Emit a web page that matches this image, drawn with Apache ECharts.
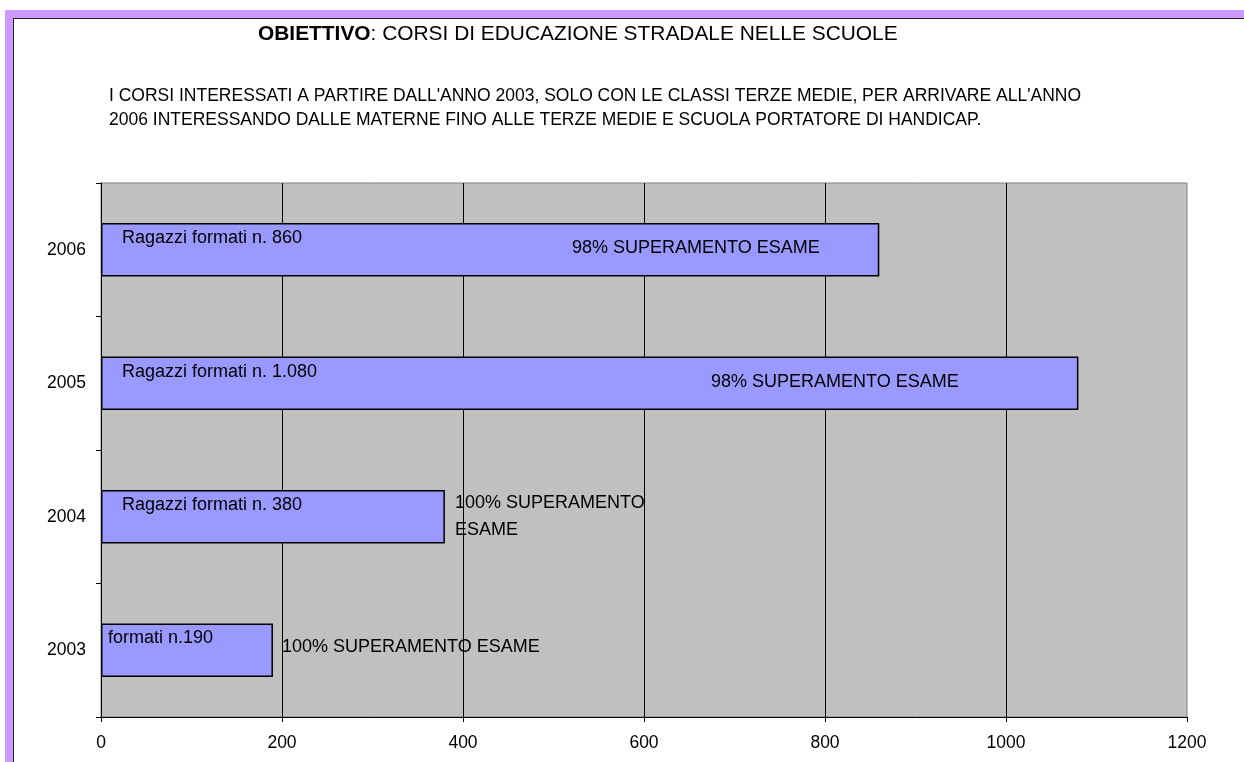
<!DOCTYPE html>
<html>
<head>
<meta charset="utf-8">
<script src="https://cdn.jsdelivr.net/npm/echarts@6/dist/echarts.min.js"></script>
<style>
  html, body { margin: 0; padding: 0; background: #fff; }
  #frame { position: absolute; left: 5px; top: 10px; right: 0; bottom: 0; background: #cc99ff; }
  #sheet { position: absolute; left: 13px; top: 18px; right: 0; bottom: 0; background: #fff;
           border-left: 1px solid #222; border-top: 1px solid #222; }
  #chart { position: absolute; left: 0; top: 0; width: 1244px; height: 762px; }
</style>
</head>
<body>
<div id="frame"></div>
<div id="sheet"></div>
<div id="chart"></div>
<script>
/* corsi di educazione stradale */
var years = ['2003', '2004', '2005', '2006'];
var trained = [190, 380, 1080, 860];
var trainedText = ['formati n.190', 'Ragazzi formati n. 380', 'Ragazzi formati n. 1.080', 'Ragazzi formati n. 860'];
var examText = ['100% SUPERAMENTO ESAME', '100% SUPERAMENTO\nESAME', '98% SUPERAMENTO ESAME', '98% SUPERAMENTO ESAME'];
var xTicks = [0, 200, 400, 600, 800, 1000, 1200];

var font = "'Liberation Sans', Arial, sans-serif";

// where the two notes sit inside each row (px from the bar start)
var trainedShift = [[7, -12], [21, -12], [21, -11], [21, -12]];
var examShift = [[181, -3], [354, 0], [610, -1], [471, -2]];

var chart = echarts.init(document.getElementById('chart'));

var trainedData = [], examData = [];
for (var i = 0; i < years.length; i++) {
  trainedData.push({
    value: trained[i],
    label: { formatter: trainedText[i], offset: trainedShift[i] }
  });
  examData.push({
    value: trained[i],
    label: { formatter: examText[i], offset: examShift[i] }
  });
}

chart.setOption({
  animation: false,
  textStyle: { fontFamily: font, color: '#000' },
  title: [{
    left: 258,
    top: 24,
    padding: 0,
    text: '{b|OBIETTIVO}: CORSI DI EDUCAZIONE STRADALE NELLE SCUOLE',
    textStyle: {
      fontFamily: font,
      fontSize: 20.9,
      fontWeight: 'normal',
      color: '#000',
      rich: {
        b: { fontFamily: font, fontSize: 20.9, fontWeight: 'bold', color: '#000' }
      }
    }
  }, {
    left: 109,
    top: 84,
    padding: 0,
    text: "I CORSI INTERESSATI A PARTIRE DALL'ANNO 2003, SOLO CON LE CLASSI TERZE MEDIE, PER ARRIVARE ALL'ANNO\n" +
          '2006 INTERESSANDO DALLE MATERNE FINO ALLE TERZE MEDIE E SCUOLA PORTATORE DI HANDICAP.',
    textStyle: {
      fontFamily: font,
      fontSize: 17.5,
      fontWeight: 'normal',
      lineHeight: 24,
      color: '#000'
    }
  }],
  grid: {
    left: 101,
    right: 57,
    top: 183,
    bottom: 45,
    show: true,
    backgroundColor: '#c0c0c0',
    borderColor: '#808080',
    borderWidth: 1
  },
  xAxis: {
    type: 'value',
    min: xTicks[0],
    max: xTicks[xTicks.length - 1],
    interval: xTicks[1] - xTicks[0],
    axisLine: { show: true, lineStyle: { color: '#000', width: 1 } },
    axisTick: { show: true, length: 5, lineStyle: { color: '#000' } },
    axisLabel: {
      color: '#000',
      fontSize: 17.5,
      margin: 17,
      fontFamily: font,
      formatter: function(v) { return String(v); }
    },
    splitLine: {
      show: true,
      showMinLine: false,
      showMaxLine: false,
      lineStyle: { color: '#000', width: 1 }
    }
  },
  yAxis: {
    type: 'category',
    data: years,
    axisLine: { show: true, lineStyle: { color: '#000', width: 1 } },
    axisTick: { show: true, length: 5, lineStyle: { color: '#000' } },
    axisLabel: { color: '#000', fontSize: 17.5, margin: 15, fontFamily: font },
    splitLine: { show: false }
  },
  series: [{
    type: 'bar',
    barWidth: '40%',
    itemStyle: { color: '#9999ff', borderColor: '#000', borderWidth: 1.5 },
    label: {
      show: true,
      position: 'insideLeft',
      distance: 0,
      fontFamily: font,
      fontSize: 18,
      color: '#000'
    },
    data: trainedData
  }, {
    type: 'bar',
    barWidth: '40%',
    barGap: '-100%',
    silent: true,
    itemStyle: { color: 'rgba(0,0,0,0)', borderWidth: 0 },
    label: {
      show: true,
      position: 'insideLeft',
      distance: 0,
      fontFamily: font,
      fontSize: 18,
      lineHeight: 27,
      color: '#000'
    },
    data: examData
  }]
});
</script>
</body>
</html>
